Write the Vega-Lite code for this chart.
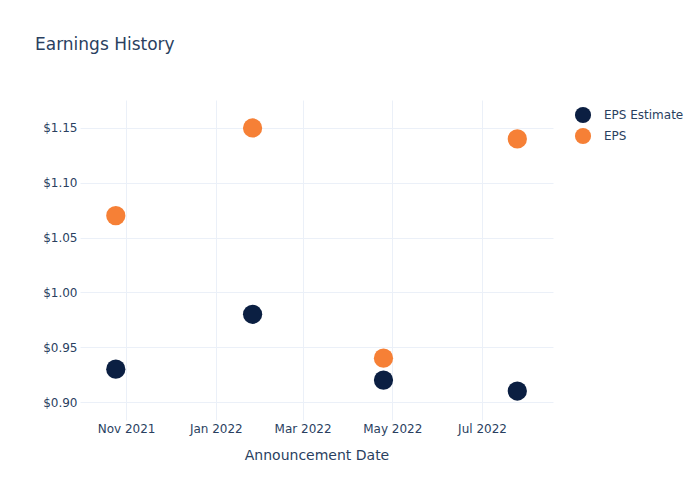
{
  "$schema": "https://vega.github.io/schema/vega-lite/v6.json",
  "width": 473,
  "height": 320,
  "autosize": {"type": "none"},
  "padding": {"left": 80, "top": 100, "right": 147, "bottom": 80},
  "background": "white",
  "title": {
    "text": "Earnings History",
    "anchor": "start",
    "frame": "group",
    "dx": -45,
    "offset": 46,
    "fontSize": 17,
    "fontWeight": "normal",
    "font": "DejaVu Sans",
    "color": "#2a3f5f"
  },
  "config": {
    "view": {"stroke": null},
    "font": "DejaVu Sans"
  },
  "data": {
    "values": [
      {"date": "2021-10-25", "series": "EPS Estimate", "value": 0.93},
      {"date": "2022-01-26", "series": "EPS Estimate", "value": 0.98},
      {"date": "2022-04-25", "series": "EPS Estimate", "value": 0.92},
      {"date": "2022-07-25", "series": "EPS Estimate", "value": 0.91},
      {"date": "2021-10-25", "series": "EPS", "value": 1.07},
      {"date": "2022-01-26", "series": "EPS", "value": 1.15},
      {"date": "2022-04-25", "series": "EPS", "value": 0.94},
      {"date": "2022-07-25", "series": "EPS", "value": 1.14}
    ]
  },
  "mark": {"type": "circle", "size": 370, "opacity": 1},
  "encoding": {
    "x": {
      "field": "date",
      "type": "temporal",
      "title": "Announcement Date",
      "scale": {"domain": ["2021-09-30T16:00:00", "2022-08-18T06:00:00"], "nice": false},
      "axis": {
        "format": "%b %Y",
        "tickCount": {"interval": "month", "step": 2},
        "domain": false,
        "ticks": false,
        "labelPadding": 3,
        "labelFontSize": 12,
        "labelColor": "#2a3f5f",
        "labelFont": "DejaVu Sans",
        "titleFontSize": 14,
        "titleFontWeight": "normal",
        "titleColor": "#2a3f5f",
        "titleFont": "DejaVu Sans",
        "titlePadding": 14,
        "gridColor": "#ebf0f8",
        "gridWidth": 1,
        "labelFlush": false
      }
    },
    "y": {
      "field": "value",
      "type": "quantitative",
      "title": null,
      "scale": {"domain": [0.8836, 1.1755], "nice": false, "zero": false},
      "axis": {
        "values": [0.9, 0.95, 1.0, 1.05, 1.1, 1.15],
        "format": "$.2f",
        "domain": false,
        "ticks": false,
        "labelPadding": 3,
        "labelFontSize": 12,
        "labelColor": "#2a3f5f",
        "labelFont": "DejaVu Sans",
        "gridColor": "#ebf0f8",
        "gridWidth": 1
      }
    },
    "color": {
      "field": "series",
      "type": "nominal",
      "scale": {"domain": ["EPS Estimate", "EPS"], "range": ["#0b1f42", "#f68036"]},
      "legend": {
        "title": null,
        "orient": "none",
        "legendX": 494,
        "legendY": 6,
        "symbolType": "circle",
        "symbolSize": 260,
        "symbolOpacity": 1,
        "labelFontSize": 12,
        "labelColor": "#2a3f5f",
        "labelFont": "DejaVu Sans",
        "rowPadding": 3,
        "labelOffset": 12
      }
    }
  }
}
